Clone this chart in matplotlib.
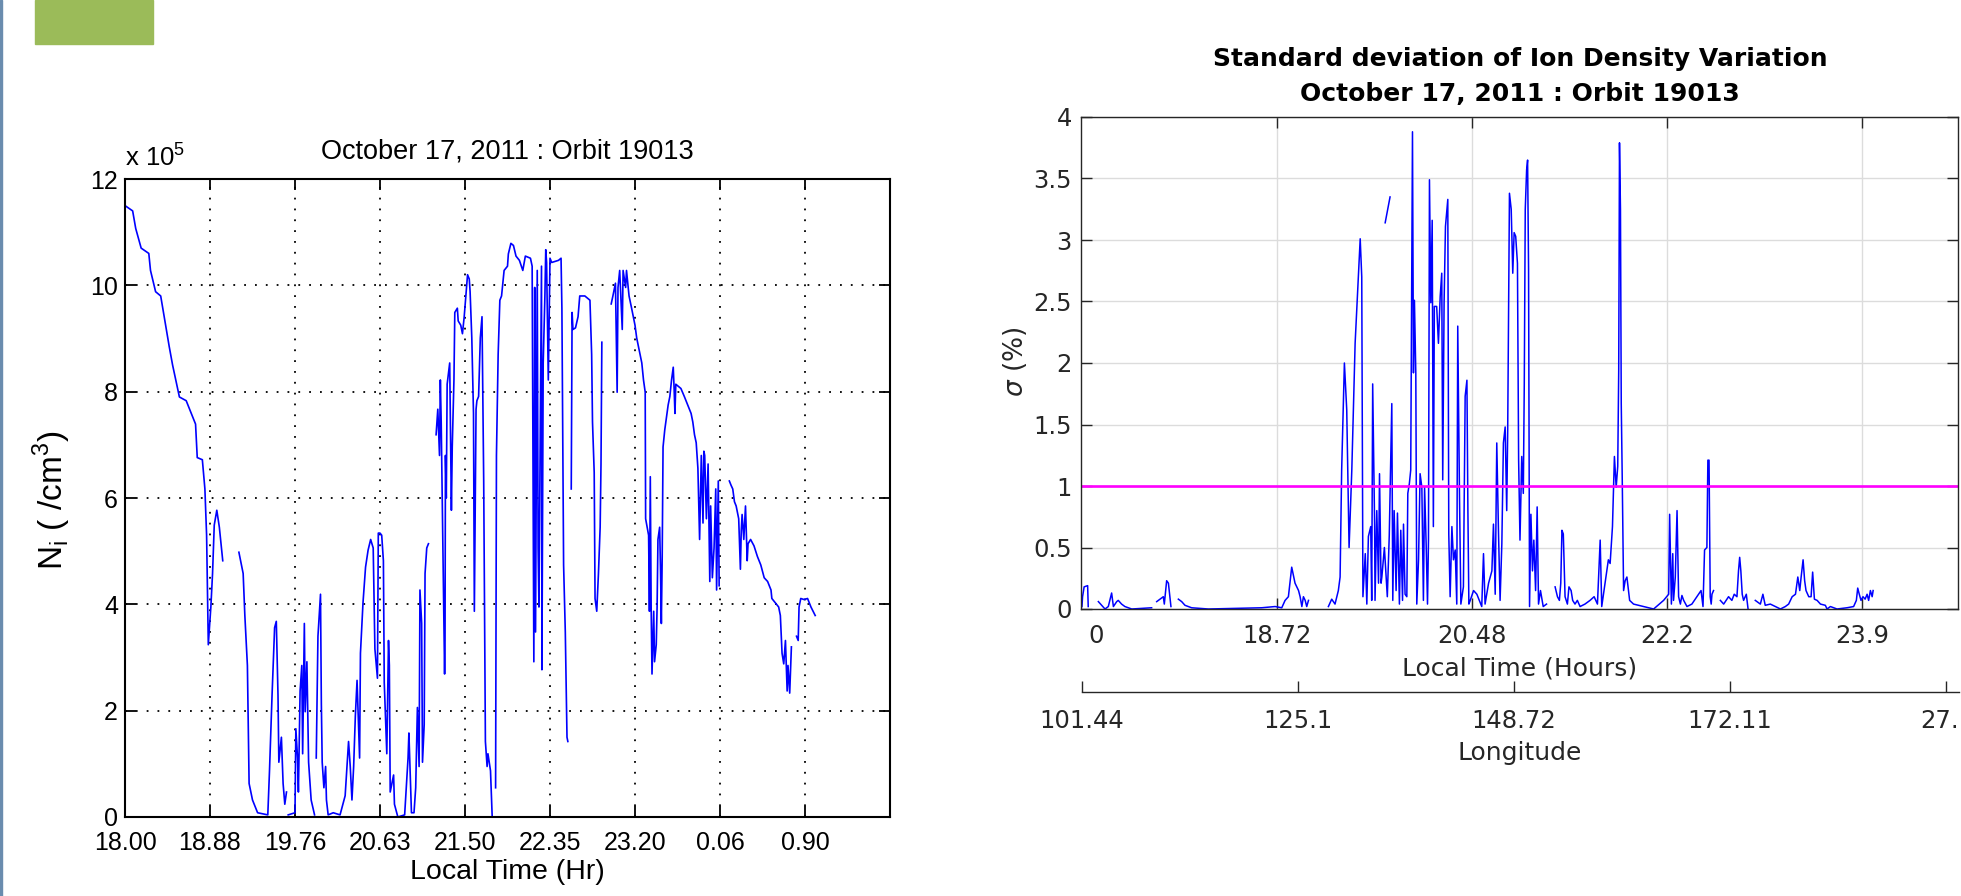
import numpy as np
import matplotlib
matplotlib.use('Agg')
import matplotlib.pyplot as plt
from matplotlib.patches import Rectangle
from matplotlib import font_manager

nan = np.nan

# ---------------- data: left panel (ion density, x in tick-units) ----------------
left_tick_labels = ['18.00', '18.88', '19.76', '20.63', '21.50', '22.35', '23.20', '0.06', '0.90', '']
ni_ticks = [0, 2, 4, 6, 8, 10, 12]

ni_x = [0.0, 0.09, 0.126, 0.19, 0.28, 0.3, 0.36, 0.42, 0.52, 0.56, 0.64, 0.72, 0.83, 0.85, 0.91, 0.94,
        0.96, 0.97, 0.98, 0.99, 1.01, 1.03, 1.05, 1.08, 1.11, 1.15, nan,
        1.34, 1.39, 1.41, 1.44, 1.46, 1.5, 1.56, 1.68, 1.7, 1.73, 1.76, 1.78, 1.8, 1.81, 1.84, 1.86,
        1.88, 1.9, nan,
        1.92, 2.0, 2.01, 2.03, 2.04, 2.06, 2.08, 2.09, 2.11, 2.12, 2.14, 2.16, 2.19, 2.23, nan,
        2.25, 2.27, 2.3, 2.31, 2.32, 2.34, 2.36, 2.37, 2.39, 2.45, 2.53, 2.59, 2.63, 2.65, 2.67, 2.69,
        2.71, 2.73, 2.76, 2.77, 2.8, 2.83, 2.86, 2.89, 2.92, 2.94, 2.97, 2.98, 3.0, 3.02, 3.04, 3.05,
        3.08, 3.1, 3.11, 3.12, 3.14, 3.16, 3.17, 3.21, 3.29, 3.33, 3.34, 3.37, 3.4, 3.42, 3.44, 3.46,
        3.47, 3.49, 3.5, 3.52, 3.53, 3.55, 3.57, nan,
        3.66, 3.67, 3.68, 3.7, 3.71, 3.72, 3.75, 3.76, 3.765, 3.77, 3.78, 3.79, 3.82, 3.84, 3.85, 3.87,
        3.88, 3.91, 3.92, 3.95, 3.97, 3.99, 4.01, 4.03, 4.05, 4.06, 4.08, 4.1, 4.11, 4.13, 4.14, 4.16,
        4.18, 4.2, 4.22, 4.24, 4.26, 4.27, 4.3, 4.32, nan,
        4.36, 4.37, 4.39, 4.41, 4.43, 4.46, 4.5, 4.51, 4.54, 4.57, 4.6, 4.64, 4.68, 4.71, 4.77, 4.79,
        4.81, 4.82, 4.83, 4.85, 4.86, 4.87, 4.9, 4.905, 4.92, 4.94, 4.95, 4.96, 4.98, 5.0, 5.02, 5.1,
        5.13, 5.14, 5.16, 5.18, 5.2, 5.21, nan,
        5.25, 5.26, 5.27, 5.3, 5.33, 5.35, 5.41, 5.47, 5.49, 5.5, 5.52, 5.53, 5.55, 5.57, 5.59, 5.6,
        5.61, nan,
        5.72, 5.74, 5.77, 5.79, 5.8, 5.82, 5.85, 5.86, 5.89, 5.9, 5.93, 5.96, 6.0, 6.02, 6.05, 6.08,
        6.1, 6.12, 6.125, 6.16, 6.17, 6.18, 6.19, 6.2, 6.22, 6.23, 6.25, 6.26, 6.27, 6.29, 6.3, 6.31,
        6.32, 6.33, 6.35, 6.37, 6.39, 6.41, 6.43, 6.45, 6.46, 6.47, 6.48, 6.51, 6.54, 6.58, 6.62, 6.66,
        6.68, 6.7, 6.72, 6.74, 6.76, 6.78, 6.8, 6.81, 6.82, 6.84, 6.86, 6.88, 6.89, 6.91, 6.93, 6.95,
        6.96, 6.98, 6.99, nan,
        7.11, 7.13, 7.15, 7.17, 7.19, 7.21, 7.22, 7.24, 7.25, 7.26, 7.28, 7.3, 7.32, 7.33, 7.36, 7.4,
        7.44, 7.48, 7.52, 7.56, 7.6, 7.61, 7.65, 7.69, 7.71, 7.73, 7.75, 7.77, 7.79, 7.8, 7.82, 7.84, nan,
        7.9, 7.92, 7.93, 7.95, 7.99, 8.03, 8.07, 8.12]

ni_y = [11.5, 11.4, 11.07, 10.7, 10.6, 10.28, 9.88, 9.8, 8.85, 8.5, 7.9, 7.83, 7.39, 6.76, 6.72, 6.17,
        5.3, 4.27, 3.24, 3.48, 3.95, 4.58, 5.49, 5.77, 5.45, 4.82, nan,
        4.98, 4.58, 3.79, 2.85, 0.63, 0.32, 0.08, 0.04, 0.87, 2.29, 3.56, 3.68, 2.29, 1.03, 1.5, 0.63,
        0.24, 0.47, nan,
        0.04, 0.08, 1.66, 1.11, 0.47, 2.37, 2.85, 1.19, 3.64, 1.98, 2.92, 1.03, 0.32, 0.04, nan,
        1.11, 3.4, 4.19, 2.13, 1.03, 0.55, 0.95, 0.32, 0.04, 0.08, 0.04, 0.4, 1.42, 0.95, 0.32, 0.95,
        1.9, 2.57, 1.11, 3.08, 4.03, 4.7, 5.02, 5.22, 5.06, 3.16, 2.61, 5.34, 5.34, 5.3, 4.82, 2.53,
        1.19, 3.32, 2.85, 0.47, 0.63, 0.79, 0.24, 0.0, 0.04, 1.11, 1.58, 0.08, 0.08, 0.55, 2.06, 0.95,
        4.27, 3.64, 1.03, 1.74, 4.58, 5.06, 5.14, nan,
        7.19, 7.43, 7.67, 6.8, 8.22, 7.43, 3.95, 2.69, 3.32, 6.8, 6.0, 8.14, 8.54, 5.77, 6.96, 8.22,
        9.49, 9.57, 9.33, 9.25, 9.09, 9.4, 9.8, 10.2, 10.12, 9.88, 9.01, 7.59, 3.87, 7.67, 7.83, 7.91,
        9.01, 9.41, 6.32, 1.42, 0.95, 1.19, 0.87, 0.0, nan,
        0.55, 6.8, 8.7, 9.72, 9.8, 10.28, 10.36, 10.59, 10.79, 10.75, 10.55, 10.47, 10.28, 10.55, 10.51, 10.36,
        2.92, 9.96, 3.48, 10.28, 5.06, 3.95, 10.36, 2.77, 8.54, 9.8, 10.67, 10.43, 8.22, 10.51, 10.43, 10.47,
        10.51, 9.57, 4.74, 3.48, 1.5, 1.42, nan,
        6.17, 9.49, 9.17, 9.2, 9.41, 9.8, 9.8, 9.72, 8.7, 7.43, 6.48, 4.11, 3.87, 4.58, 5.45, 6.64,
        8.93, nan,
        9.65, 9.8, 10.04, 7.99, 9.96, 10.28, 9.17, 10.28, 9.96, 10.28, 9.8, 9.57, 9.25, 9.01, 8.77, 8.54,
        8.22, 7.99, 5.61, 5.3, 3.87, 6.4, 3.95, 2.69, 3.87, 2.92, 3.24, 3.95, 5.22, 5.45, 4.66, 3.64,
        4.9, 6.96, 7.28, 7.51, 7.75, 7.91, 8.22, 8.46, 8.06, 7.59, 8.14, 8.1, 8.06, 7.91, 7.75, 7.59,
        7.43, 7.19, 7.04, 6.56, 5.22, 6.8, 5.53, 6.88, 6.8, 5.61, 6.64, 4.43, 5.85, 4.5, 5.06, 6.17,
        4.27, 6.32, 4.35, nan,
        6.32, 6.24, 6.17, 5.93, 5.85, 5.69, 5.61, 4.66, 5.38, 5.69, 5.22, 5.85, 4.82, 5.14, 5.22, 5.1,
        4.9, 4.74, 4.5, 4.43, 4.27, 4.11, 4.03, 3.95, 3.79, 3.08, 2.88, 3.32, 2.37, 2.85, 2.33, 3.2, nan,
        3.4, 3.32, 3.95, 4.11, 4.09, 4.11, 3.95, 3.79]

# ---------------- data: right panel (std deviation, x in tick-units) ----------------
lt_hours_labels = ['18.72', '20.48', '22.2', '23.9']
lon_labels = ['101.44', '125.1', '148.72', '172.11', '27.']
sigma_ticks = [0, 0.5, 1, 1.5, 2, 2.5, 3, 3.5, 4]
threshold = 1.0

sd_x = [0.0, 0.003, 0.011, 0.029, 0.032, nan,
        0.084, 0.118, 0.135, 0.152, 0.161, 0.178, 0.186, 0.203, 0.22, 0.255, 0.357, nan,
        0.383, 0.4, 0.417, 0.422, 0.434, 0.443, 0.456, nan,
        0.494, 0.511, 0.528, 0.562, 0.648, 0.921, 0.99, 1.024, 1.041, 1.058, 1.075, 1.092, 1.11, 1.118,
        1.127, 1.135, 1.144, 1.152, 1.161, nan,
        1.263, 1.28, 1.297, 1.314, 1.323, 1.331, 1.345, 1.357, 1.369, 1.383, 1.4, 1.426, 1.434, 1.44,
        1.452, 1.46, 1.468, 1.48, 1.485, 1.49, 1.5, 1.502, 1.511, 1.52, 1.525, 1.533, 1.537, 1.55,
        1.565, 1.575, 1.588, 1.593, 1.6, 1.61, 1.617, 1.627, 1.634, 1.643, 1.648, 1.656, 1.665, 1.67,
        1.678, 1.685, 1.694, 1.699, 1.704, 1.711, 1.716, 1.725, 1.733, 1.742, 1.75, 1.756, 1.764, 1.771,
        1.776, 1.781, 1.788, 1.795, 1.801, 1.806, 1.818, 1.827, 1.836, 1.844, 1.849, 1.856, 1.863, 1.875,
        1.88, 1.887, 1.896, 1.904, 1.913, 1.921, 1.926, 1.935, 1.942, 1.955, 1.964, 1.973, 1.978, 1.983,
        1.99, 2.007, 2.024, 2.049, 2.058, 2.066, 2.084, 2.101, 2.109, 2.118, 2.126, 2.135, 2.143, 2.152,
        2.16, 2.169, 2.177, 2.182, 2.191, 2.2, 2.208, 2.215, 2.223, 2.232, 2.238, 2.245, 2.254, 2.262,
        2.267, 2.272, 2.279, 2.284, 2.289, 2.294, 2.301, 2.309, 2.316, 2.325, 2.333, 2.34, 2.35, 2.364,
        2.381, nan,
        2.425, 2.437, 2.447, 2.454, 2.46, 2.467, 2.476, 2.488, 2.496, 2.507, 2.515, 2.527, 2.539, 2.553,
        2.578, 2.604, 2.625, 2.642, 2.656, 2.664, 2.681, 2.698, 2.707, 2.719, 2.729, 2.738, 2.746, 2.751,
        2.755, 2.76, 2.764, 2.769, 2.776, 2.784, 2.793, 2.807, 2.827, 2.879, 2.93, 2.981, 3.007, 3.012,
        3.021, 3.028, 3.032, 3.041, 3.05, 3.058, 3.067, 3.075, 3.084, 3.101, 3.126, 3.152, 3.173, 3.183,
        3.191, 3.203, 3.208, 3.214, 3.22, 3.225, 3.229, 3.237, nan,
        3.272, 3.289, 3.314, 3.331, 3.343, 3.357, 3.365, 3.371, 3.377, 3.384, 3.391, 3.405, 3.414, nan,
        3.451, 3.477, 3.49, 3.502, 3.528, 3.554, 3.58, 3.605, 3.622, 3.64, 3.657, 3.669, 3.679, 3.686,
        3.696, 3.704, 3.711, 3.725, 3.737, 3.745, 3.754, 3.768, 3.785, 3.81, 3.819, 3.836, 3.87, 3.921,
        3.955, 3.969, 3.976, 3.984, 3.993, 4.003, 4.014, 4.024, 4.032, 4.041, 4.05, 4.055, nan,
        1.554, 1.579]

sd_y = [0.02, 0.1, 0.18, 0.19, 0.02, nan,
        0.06, 0.0, 0.02, 0.13, 0.02, 0.06, 0.07, 0.04, 0.02, 0.0, 0.01, nan,
        0.06, 0.08, 0.1, 0.04, 0.23, 0.21, 0.02, nan,
        0.08, 0.06, 0.03, 0.01, 0.0, 0.01, 0.02, 0.01, 0.07, 0.1, 0.34, 0.21, 0.15, 0.1,
        0.02, 0.1, 0.07, 0.02, 0.07, nan,
        0.02, 0.08, 0.04, 0.15, 0.26, 1.13, 2.0, 1.62, 0.5, 1.13, 2.16, 3.01, 2.7, 0.1,
        0.45, 0.04, 0.59, 0.67, 0.07, 1.83, 0.67, 0.07, 0.8, 0.21, 1.1, 0.21, 0.26, 0.5,
        0.1, 0.6, 1.67, 0.07, 0.8, 0.15, 0.78, 0.04, 0.64, 0.07, 0.69, 0.12, 0.1, 0.94,
        1.02, 1.13, 3.88, 1.92, 2.51, 1.92, 0.04, 0.4, 1.1, 0.99, 0.07, 0.99, 0.53, 0.04,
        0.56, 3.49, 2.49, 3.16, 0.67, 2.46, 2.46, 2.16, 2.54, 2.73, 1.05, 2.49, 3.11, 3.33,
        0.61, 0.1, 0.67, 0.4, 0.48, 0.04, 2.3, 0.91, 0.04, 0.18, 1.73, 1.86, 0.8, 0.04,
        0.07, 0.15, 0.12, 0.02, 0.45, 0.04, 0.21, 0.31, 0.69, 0.12, 1.35, 0.61, 0.07, 0.53,
        1.35, 1.48, 0.8, 1.45, 3.38, 3.25, 2.73, 3.06, 3.03, 2.81, 1.21, 0.56, 1.24, 0.94,
        1.83, 3.25, 3.57, 3.65, 2.76, 0.02, 0.77, 0.31, 0.56, 0.15, 0.83, 0.04, 0.15, 0.02,
        0.04, nan,
        0.18, 0.1, 0.07, 0.21, 0.64, 0.61, 0.1, 0.04, 0.18, 0.15, 0.07, 0.04, 0.07, 0.02,
        0.04, 0.07, 0.1, 0.04, 0.56, 0.02, 0.21, 0.4, 0.37, 0.67, 1.24, 0.99, 1.16, 1.94,
        3.79, 3.25, 1.67, 1.07, 0.15, 0.23, 0.26, 0.07, 0.04, 0.02, 0.0, 0.07, 0.12, 0.77,
        0.04, 0.45, 0.07, 0.26, 0.8, 0.1, 0.04, 0.11, 0.07, 0.02, 0.04, 0.1, 0.15, 0.02,
        0.48, 0.5, 1.21, 1.21, 0.1, 0.04, 0.12, 0.15, nan,
        0.07, 0.04, 0.1, 0.07, 0.12, 0.1, 0.31, 0.42, 0.31, 0.12, 0.07, 0.12, 0.0, nan,
        0.07, 0.04, 0.12, 0.03, 0.04, 0.02, 0.0, 0.02, 0.04, 0.1, 0.12, 0.26, 0.15, 0.26,
        0.4, 0.23, 0.15, 0.1, 0.1, 0.3, 0.08, 0.07, 0.04, 0.03, 0.0, 0.02, 0.0, 0.01,
        0.02, 0.07, 0.17, 0.12, 0.07, 0.1, 0.08, 0.12, 0.07, 0.15, 0.1, 0.15, nan,
        3.14, 3.35]

# ---------------- figure ----------------
W, H = 1961, 896
fig = plt.figure(figsize=(W / 100, H / 100), dpi=100)
fig.patch.set_facecolor('white')

names = {f.name for f in font_manager.fontManager.ttflist}
REG = 'Liberation Sans' if 'Liberation Sans' in names else 'DejaVu Sans'
NARROW = 'Liberation Sans Narrow' if 'Liberation Sans Narrow' in names else REG
RIGHT = 'DejaVu Sans'

plt.rcParams['mathtext.fontset'] = 'custom'
plt.rcParams['mathtext.rm'] = REG
plt.rcParams['mathtext.it'] = 'DejaVu Sans:italic'


def box(l, t, r, b):
    return [l / W, 1 - b / H, (r - l) / W, (b - t) / H]


def fx(x):
    return x / W


def fy(y):
    return 1 - y / H


# slide decoration
fig.patches.append(Rectangle((0, 0), 2 / W, 1, transform=fig.transFigure, color='#6A8CAE', zorder=0))
fig.patches.append(Rectangle((35 / W, 1 - 44 / H), 118 / W, 44 / H, transform=fig.transFigure,
                             color='#9BBB59', zorder=0))

# ---------------- left panel ----------------
ax1 = fig.add_axes(box(125, 179, 890, 817))
ax1.plot(ni_x, ni_y, color='#0000FF', lw=1.2)
ax1.set_xlim(0, 9)
ax1.set_ylim(0, 12)
ax1.set_xticks(range(len(left_tick_labels)))
ax1.set_xticklabels(left_tick_labels)
ax1.set_yticks(ni_ticks)
ax1.set_yticklabels([str(v) for v in ni_ticks])
ax1.grid(True, color='black', linestyle=(0, (1, 5)), linewidth=1.3)
ax1.tick_params(axis='both', direction='in', length=8, width=1.3, top=True, right=True,
                labelsize=18, colors='black')
ax1.tick_params(axis='x', pad=10)
ax1.tick_params(axis='y', pad=5)
for lbl in ax1.get_xticklabels() + ax1.get_yticklabels():
    lbl.set_family(NARROW)
for s in ax1.spines.values():
    s.set_linewidth(1.5)
    s.set_color('black')

fig.text(fx(507), fy(158), 'October 17, 2011 : Orbit 19013', ha='center', va='baseline',
         fontsize=19.5, family=REG)
fig.text(fx(125), fy(166), r'x 10$^{\mathregular{5}}$', ha='left', va='baseline',
         fontsize=18.5, family=NARROW)
fig.text(fx(507), fy(872), 'Local Time (Hr)', ha='center', va='center', fontsize=20.5, family=REG)
fig.text(fx(52), fy(500), r'N$_{\mathregular{i}}$ ( /cm$^{\mathregular{3}}$)', ha='center',
         va='center', rotation=90, fontsize=24, family=REG)

# ---------------- right panel ----------------
ax2 = fig.add_axes(box(1081, 117, 1958, 609))
ax2.plot(sd_x, sd_y, color='#0000FF', lw=1.1)
ax2.axhline(threshold, color='#FF00FF', lw=1.9)
ax2.set_xlim(-0.005, 4.49)
ax2.set_ylim(0, 4)
ax2.set_xticks([1, 2, 3, 4])
ax2.set_xticklabels(lt_hours_labels)
ax2.set_xticks([0.07], minor=True)
ax2.set_xticklabels(['0'], minor=True)
ax2.set_yticks(sigma_ticks)
ax2.set_yticklabels(['%g' % v for v in sigma_ticks])
ax2.grid(True, which='major', color='#DCDCDC', linewidth=1.0)
ax2.set_axisbelow(True)
ax2.tick_params(axis='both', which='major', direction='in', length=8, width=1.0, top=True,
                right=True, labelsize=17.5, colors='#262626')
ax2.tick_params(axis='x', which='minor', length=0, labelsize=17.5, colors='#262626', pad=11)
ax2.tick_params(axis='x', which='major', pad=11)
ax2.tick_params(axis='y', pad=6.5)
for lbl in ax2.get_xticklabels(which='both') + ax2.get_yticklabels():
    lbl.set_family(RIGHT)
for s in ax2.spines.values():
    s.set_linewidth(1.0)
    s.set_color('#262626')

fig.text(fx(1520), fy(59), 'Standard deviation of Ion Density Variation', ha='center', va='center',
         fontsize=18, fontweight='bold', family=RIGHT, color='black')
fig.text(fx(1520), fy(94), 'October 17, 2011 : Orbit 19013', ha='center', va='center',
         fontsize=18, fontweight='bold', family=RIGHT, color='black')
fig.text(fx(1520), fy(668), 'Local Time (Hours)', ha='center', va='center', fontsize=18,
         family=RIGHT, color='#262626')
fig.text(fx(1015), fy(362), r'$\sigma$ (%)', ha='center', va='center', rotation=90, fontsize=19,
         family=RIGHT, color='#262626')

# longitude axis
ax3 = fig.add_axes(box(1082, 672, 1959, 692))
ax3.patch.set_visible(False)
for k in ('top', 'left', 'right'):
    ax3.spines[k].set_visible(False)
ax3.spines['bottom'].set_color('#262626')
ax3.spines['bottom'].set_linewidth(1.0)
ax3.set_xlim(0, 877 / 216)
ax3.set_ylim(0, 1)
ax3.set_yticks([])
ax3.set_xticks(range(len(lon_labels)))
ax3.set_xticklabels(lon_labels[:-1] + [''])
ax3.tick_params(axis='x', direction='in', length=8, width=1.0, labelsize=17.5, colors='#262626', pad=12.5)
for lbl in ax3.get_xticklabels():
    lbl.set_family(RIGHT)
# last longitude label sits at the figure edge; nudge it so it stays inside
ax3.text(len(lon_labels) - 1 + 13 / 216, -17.4 / 20, lon_labels[-1], transform=ax3.get_xaxis_transform(),
         ha='right', va='top', fontsize=17.5, family=RIGHT, color='#262626')
fig.text(fx(1520), fy(753), 'Longitude', ha='center', va='center', fontsize=18, family=RIGHT,
         color='#262626')

fig.savefig('out.png', dpi=100)
